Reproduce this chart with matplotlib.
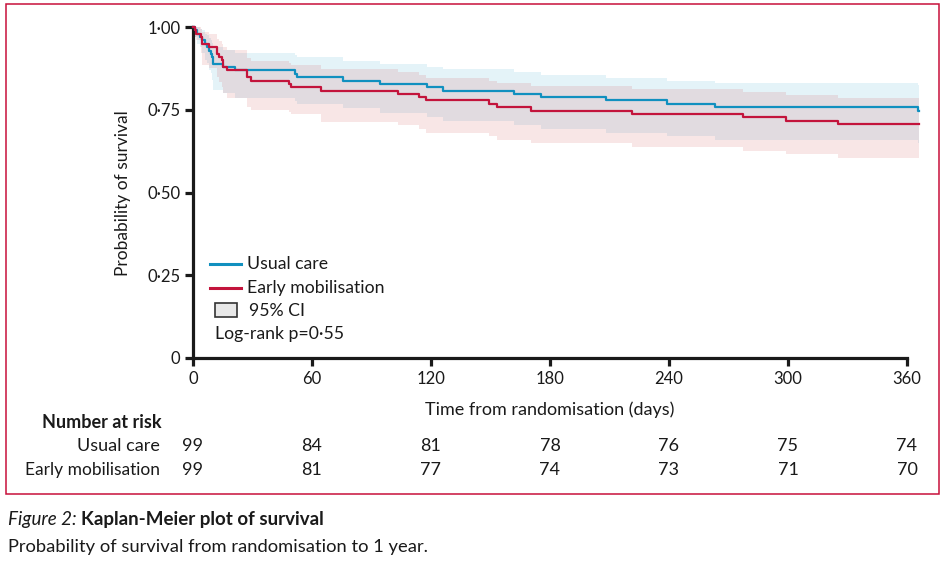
import matplotlib
matplotlib.use("Agg")
import matplotlib.pyplot as plt
from matplotlib.patches import Rectangle

# Kaplan-Meier steps (days, survival, 95% CI)
uc_t = [0, 1.0, 2.2, 3.5, 4.7, 6.1, 6.9, 7.9, 8.9, 9.4, 10.3, 15.0, 21.2, 51.4, 52.3,
        75.4, 94.3, 118.2, 125.9, 162.0, 175.3, 208.1, 239.2, 263.2, 365.3, 366.0]
uc_s = [1.0, 0.990, 0.980, 0.970, 0.960, 0.949, 0.939, 0.929, 0.919, 0.909, 0.889, 0.879,
        0.869, 0.859, 0.848, 0.838, 0.828, 0.818, 0.808, 0.798, 0.788, 0.778, 0.768,
        0.758, 0.747, 0.747]
uc_lo = [1.0, 0.97, 0.95, 0.94, 0.92, 0.90, 0.89, 0.87, 0.86, 0.84, 0.81, 0.80, 0.785,
         0.775, 0.766, 0.754, 0.740, 0.728, 0.716, 0.704, 0.692, 0.681, 0.671, 0.659,
         0.650, 0.650]
uc_hi = [1.0, 1.0, 1.0, 0.995, 0.99, 0.98, 0.975, 0.968, 0.96, 0.952, 0.94, 0.93, 0.922,
         0.915, 0.908, 0.897, 0.887, 0.880, 0.872, 0.863, 0.855, 0.847, 0.838, 0.830,
         0.825, 0.825]

em_t = [0, 1.0, 1.5, 4.0, 4.7, 8.2, 11.9, 13.3, 14.5, 15.3, 17.3, 27.1, 29.1, 48.4, 49.3,
        64.4, 103.2, 114.1, 117.4, 149.4, 153.1, 170.4, 221.2, 277.2, 299.0, 325.1, 366.0]
em_s = [1.0, 0.990, 0.980, 0.970, 0.949, 0.939, 0.919, 0.909, 0.899, 0.879, 0.869, 0.848,
        0.838, 0.828, 0.818, 0.808, 0.798, 0.788, 0.778, 0.768, 0.758, 0.747, 0.737,
        0.727, 0.717, 0.707, 0.707]
em_lo = [1.0, 0.97, 0.96, 0.92, 0.885, 0.875, 0.85, 0.835, 0.82, 0.80, 0.784, 0.757,
         0.749, 0.742, 0.737, 0.714, 0.704, 0.692, 0.681, 0.671, 0.659, 0.649, 0.638,
         0.626, 0.615, 0.605, 0.605]
em_hi = [1.0, 1.0, 1.0, 0.995, 0.985, 0.978, 0.965, 0.958, 0.95, 0.94, 0.93, 0.905,
         0.898, 0.892, 0.885, 0.873, 0.863, 0.855, 0.847, 0.837, 0.830, 0.822, 0.813,
         0.803, 0.795, 0.785, 0.785]

risk_times = [0, 60, 120, 180, 240, 300, 360]
risk_uc = [99, 84, 81, 78, 76, 75, 74]
risk_em = [99, 81, 77, 74, 73, 71, 70]
yticks = [0, 0.25, 0.5, 0.75, 1.0]
ytick_labels = ["0", "0·25", "0·50", "0·75", "1·00"]

BLUE = "#1190bf"
RED = "#c3143c"
FRAME = "#c8103a"
INK = "#1a1a1a"
CHART_FONT = ["Lato", "DejaVu Sans"]
NARROW_FONT = ["Liberation Sans Narrow", "Lato", "DejaVu Sans"]

W, H = 945, 564
fig = plt.figure(figsize=(W / 100, H / 100), dpi=100)


def fx(px):
    return px / W


def fy(py):
    return 1 - py / H


# axes: x=0 at px 193, x=360 at px 907, y=0 at py 358, y=1 at py 27
ppd = (907 - 193) / 360
ax = fig.add_axes([fx(193), fy(358), 366 * ppd / W, (358 - 27) / H])
ax.set_xlim(0, 366)
ax.set_ylim(0, 1.0)

ax.fill_between(uc_t, uc_lo, uc_hi, step="post", color="#0090c0", alpha=0.106, lw=0)
ax.fill_between(em_t, em_lo, em_hi, step="post", color="#d05858", alpha=0.15, lw=0)
ax.step(uc_t, uc_s, where="post", color=BLUE, lw=1.6, clip_on=False, zorder=3)
ax.step(em_t, em_s, where="post", color=RED, lw=1.6, clip_on=False, zorder=4)

for s in ["top", "right"]:
    ax.spines[s].set_visible(False)
for s in ["left", "bottom"]:
    ax.spines[s].set_linewidth(2.3)
    ax.spines[s].set_color(INK)
ax.spines["bottom"].set_bounds(0, 360)
ax.set_xticks(risk_times)
ax.set_yticks(yticks)
ax.set_yticklabels(ytick_labels)
ax.tick_params(direction="out", length=6, width=2.3, color=INK, labelsize=12,
               pad=3, labelcolor=INK)
for lab in ax.get_xticklabels() + ax.get_yticklabels():
    lab.set_family(CHART_FONT)

fig.text(fx(123), fy(193), "Probability of survival", rotation=90, ha="center",
         va="center", fontsize=12.5, family=CHART_FONT, color=INK)
fig.text(fx(550), fy(410), "Time from randomisation (days)", ha="center", va="center",
         fontsize=13, family=NARROW_FONT, color=INK)

# legend drawn by hand
fig.add_artist(plt.Line2D([fx(210), fx(241)], [fy(264), fy(264)], color=BLUE, lw=2.2))
fig.add_artist(plt.Line2D([fx(210), fx(241)], [fy(288), fy(288)], color=RED, lw=2.2))
fig.add_artist(Rectangle((fx(215), fy(317)), fx(22), 14 / H, facecolor="#e8e8e8",
                         edgecolor="#333333", lw=1.2))
fig.text(fx(247), fy(264), "Usual care", va="center", fontsize=12.7, family=CHART_FONT,
         color=INK)
fig.text(fx(247), fy(288), "Early mobilisation", va="center", fontsize=12.7,
         family=CHART_FONT, color=INK)
fig.text(fx(249), fy(310.5), "95% CI", va="center", fontsize=12.7, family=CHART_FONT,
         color=INK)
fig.text(fx(215), fy(334), "Log-rank p=0·55", va="center", fontsize=12.7,
         family=CHART_FONT, color=INK)

# number at risk table
fig.text(fx(162), fy(423), "Number at risk", ha="right", va="center", fontsize=13,
         fontweight="bold", family=NARROW_FONT, color=INK)
fig.text(fx(160), fy(446), "Usual care", ha="right", va="center", fontsize=13,
         family=NARROW_FONT, color=INK)
fig.text(fx(160), fy(470), "Early mobilisation", ha="right", va="center", fontsize=12.5,
         family=NARROW_FONT, color=INK)
for t, a, b in zip(risk_times, risk_uc, risk_em):
    xx = ax.transData.transform((t, 0))[0] / W
    fig.text(xx, fy(446), str(a), ha="center", va="center", fontsize=13,
             family=NARROW_FONT, color=INK)
    fig.text(xx, fy(470), str(b), ha="center", va="center", fontsize=13,
             family=NARROW_FONT, color=INK)

# frame around the figure panel
fig.add_artist(Rectangle((fx(6), fy(494)), fx(933), (494 - 4) / H, fill=False,
                         edgecolor=FRAME, lw=1.1))

# caption
cap = fig.text(fx(8), fy(520), "Figure 2:", va="center", fontsize=13.5,
               style="italic", family=NARROW_FONT, color=INK)
fig.canvas.draw()
bb = cap.get_window_extent()
fig.text((bb.x1 + 4) / W, fy(520), "Kaplan-Meier plot of survival", va="center",
         fontsize=13.5, fontweight="bold", family=NARROW_FONT, color=INK)
fig.text(fx(8), fy(547), "Probability of survival from randomisation to 1 year.",
         va="center", fontsize=13.2, family=NARROW_FONT, color=INK)

fig.savefig("out.png", dpi=100)
